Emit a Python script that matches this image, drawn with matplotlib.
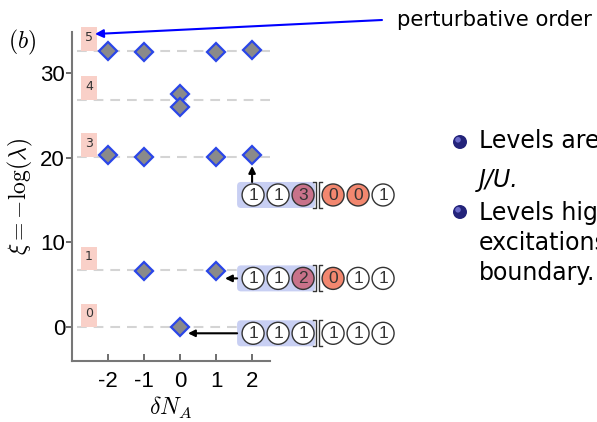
import matplotlib
matplotlib.use('Agg')
import matplotlib.pyplot as plt
from matplotlib.patches import Rectangle, Circle, FancyBboxPatch

plt.rcParams['mathtext.fontset'] = 'cm'
plt.rcParams['axes.unicode_minus'] = False
plt.rcParams['lines.scale_dashes'] = False

# entanglement levels: charge sector dN_A and xi = -log(lambda)
dN = [-2, -1, 1, 2, 0, 0, -2, -1, 1, 2, -1, 1, 0]
xi = [32.6, 32.4, 32.4, 32.7, 27.5, 26.0, 20.3, 20.1, 20.1, 20.3, 6.65, 6.65, 0.0]

# perturbative order of each group of levels
orders = [0, 1, 3, 4, 5]
order_xi = [0.0, 6.7, 20.1, 26.8, 32.6]

xticks = [-2, -1, 0, 1, 2]
yticks = [0, 10, 20, 30]

# occupation configs (left half | right half) shown next to some levels
configs = [[1, 1, 1, 1, 1, 1], [1, 1, 2, 0, 1, 1], [1, 1, 3, 0, 0, 1]]
config_xi = [-0.7, 5.77, 15.6]
fill = {0: '#f2876f', 1: 'white', 2: '#c8728a', 3: '#c8728a'}

W, H = 597, 422
fig = plt.figure(figsize=(W / 100, H / 100), dpi=100)
ax = fig.add_axes([72 / W, (H - 361.3) / H, 198 / W, 329.6 / H])
ax.set_xlim(-3, 2.5)
ax.set_ylim(-4, 34.84)

for o, y in zip(orders, order_xi):
    ax.plot([-2.85, 2.5], [y, y], color='#d4d4d4', lw=1.5, dashes=(7, 5), zorder=1)
    ax.add_patch(Rectangle((-2.75, y), 0.44, 2.8, color='#f9d0c8', lw=0, zorder=2, clip_on=False))
    ax.text(-2.53, y + 1.6, str(o), ha='center', va='center', fontsize=9, color='#333333', zorder=3)

ax.plot(dN, xi, ls='none', marker='D', ms=9, mfc='#8a8a8a', mec='#2a46e8', mew=1.6, zorder=4, clip_on=False)

for s in ['top', 'right']:
    ax.spines[s].set_visible(False)
for s in ['left', 'bottom']:
    ax.spines[s].set_color('#777777')
    ax.spines[s].set_linewidth(1.5)
ax.set_xticks(xticks)
ax.set_yticks(yticks)
ax.set_xticklabels([str(t) for t in xticks], family='Liberation Sans', fontsize=16)
ax.set_yticklabels([str(t) for t in yticks], family='Liberation Sans', fontsize=16)
ax.tick_params(axis='x', direction='in', length=5, width=1.2, color='#555555', pad=7)
ax.tick_params(axis='y', direction='out', length=4, width=1.2, color='#555555', pad=1)
ax.set_xlabel(r'$\delta N_A$', fontsize=17, labelpad=2)
ax.set_ylabel(r'$\xi = -\log(\lambda)$', fontsize=17, labelpad=4)

fig.text(8 / W, 1 - 42 / H, r'$(b)$', fontsize=17, va='center')

# overlay in pixel coordinates for the annotations
ov = fig.add_axes([0, 0, 1, 1])
ov.set_xlim(0, W)
ov.set_ylim(H, 0)
ov.axis('off')


def to_px(x, y):
    d = ax.transData.transform((x, y))
    return d[0], H - d[1]


for cfg, cy in zip(configs, config_xi):
    x0, y0 = to_px(2.03, cy)
    ov.add_patch(FancyBboxPatch((x0 - 12, y0 - 9), 70, 18, boxstyle='round,pad=4',
                                fc='#c8cff3', ec='none', zorder=1))
    for i, n in enumerate(cfg):
        cx = x0 + i * 25 + (5 if i >= 3 else 0)
        ov.add_patch(Circle((cx, y0), 11, fc=fill[n], ec='#333333', lw=1, zorder=2))
        ov.text(cx, y0 + 0.5, str(n), ha='center', va='center', fontsize=12.5,
                family='Liberation Sans', color='#333333', zorder=3)
    bx = x0 + 63
    ov.plot([bx - 3, bx, bx, bx - 3], [y0 - 13, y0 - 13, y0 + 13, y0 + 13], color='#333333', lw=1)
    ov.plot([bx + 6, bx + 3, bx + 3, bx + 6], [y0 - 13, y0 - 13, y0 + 13, y0 + 13], color='#333333', lw=1)

# arrows from configs to levels
arrow = dict(arrowstyle='-|>', color='black', lw=1.5, mutation_scale=10, shrinkA=0, shrinkB=0)
x0, y0 = to_px(2.03, config_xi[0])
ov.annotate('', xy=(188, y0), xytext=(x0 - 16, y0), arrowprops=arrow)
x0, y0 = to_px(2.03, config_xi[1])
ov.annotate('', xy=(225, y0), xytext=(x0 - 16, y0), arrowprops=arrow)
x0, y0 = to_px(2.03, config_xi[2])
ov.annotate('', xy=(x0 - 1, 166), xytext=(x0 - 1, y0 - 13), arrowprops=arrow)

# perturbative order label
ov.text(397, 20, 'perturbative order', fontsize=15.3, va='center', ha='left', family='DejaVu Sans')
ov.annotate('', xy=(95, 34), xytext=(382, 20),
            arrowprops=dict(arrowstyle='-|>', color='#0000ff', lw=1.5, mutation_scale=12,
                            shrinkA=0, shrinkB=0))

# slide bullets
for by in [142, 212]:
    ov.add_patch(Circle((460, by), 7, fc='#23237a', ec='none', zorder=2))
    ov.add_patch(Circle((458, by - 2.2), 2.8, fc='#6a6ac8', ec='none', zorder=3))
lines = [('Levels are', 148, 'normal'), ('J/U.', 187, 'italic'),
         ('Levels hig', 220, 'normal'), ('excitations', 250, 'normal'), ('boundary.', 280, 'normal')]
for txt, y, st in lines:
    ov.text(479, y, txt, fontsize=17, va='baseline', ha='left', style=st, family='DejaVu Sans')

fig.savefig('out.png', dpi=100)
